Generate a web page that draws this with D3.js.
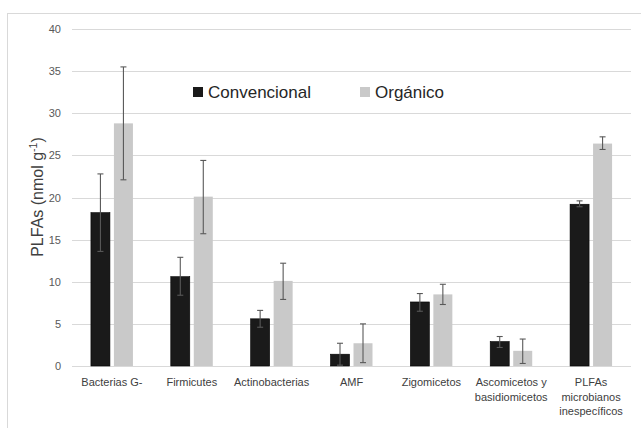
<!DOCTYPE html>
<html>
<head>
<meta charset="utf-8">
<style>
  body { margin: 0; background: #fff; }
  svg { font-family: "Liberation Sans", Arial, sans-serif; }
</style>
</head>
<body>
<div id="chart"></div>
<script src="https://d3js.org/d3.v7.min.js"></script>
<script>
// categories (line-broken labels)
var categories = ["Bacterias G-", "Firmicutes", "Actinobacterias", "AMF", "Zigomicetos",
                  "Ascomicetos y|basidiomicetos", "PLFAs|microbianos|inespecíficos"];
var series = ["Convencional", "Orgánico"];
var convencional = [18.2, 10.6, 5.6, 1.4, 7.6, 2.9, 19.2];
var convLow      = [13.6, 8.4, 4.6, 0.1, 6.5, 2.2, 18.9];
var convHigh     = [22.8, 12.9, 6.6, 2.7, 8.6, 3.5, 19.6];
var organico     = [28.8, 20.1, 10.1, 2.7, 8.5, 1.8, 26.4];
var orgLow       = [22.1, 15.7, 7.9, 0.4, 7.3, 0.3, 25.7];
var orgHigh      = [35.5, 24.4, 12.2, 5.0, 9.7, 3.2, 27.2];
var yTicks = [0, 5, 10, 15, 20, 25, 30, 35, 40];

var W = 641, H = 428;
var colors = ["#1a1a1a", "#c9c9c9"];

var svg = d3.select("#chart").append("svg")
    .attr("width", W).attr("height", H);

// outer chart border
svg.append("rect")
    .attr("x", 7.5).attr("y", 13.5)
    .attr("width", W + 10).attr("height", H + 10)
    .attr("fill", "none").attr("stroke", "#d9d9d9");

var x = d3.scaleBand().domain(categories).range([72, 631]);
var y = d3.scaleLinear().domain([0, 40]).range([366, 29]);

// gridlines
svg.append("g").selectAll("line").data(yTicks).enter().append("line")
    .attr("x1", 72).attr("x2", 631)
    .attr("y1", d => Math.round(y(d)) + 0.5).attr("y2", d => Math.round(y(d)) + 0.5)
    .attr("stroke", "#d9d9d9").attr("stroke-width", 1);

// y axis labels
var yAxis = svg.append("g")
    .attr("transform", "translate(72,0)")
    .call(d3.axisLeft(y).tickValues(yTicks).tickSize(0).tickPadding(11));
yAxis.select(".domain").remove();
yAxis.selectAll("text").attr("font-size", 11).attr("fill", "#595959")
    .attr("font-family", "Liberation Sans, Arial, sans-serif");

var barW = 19, gap = 4;
var rows = categories.map((c, i) => ({
  cat: c,
  vals: [
    {s: 0, v: convencional[i], lo: convLow[i], hi: convHigh[i]},
    {s: 1, v: organico[i], lo: orgLow[i], hi: orgHigh[i]}
  ]
}));

var groups = svg.append("g").selectAll("g").data(rows).enter().append("g")
    .attr("transform", d => "translate(" + (x(d.cat) + x.bandwidth() / 2) + ",0)");

function bx(d) { return d.s === 0 ? -gap / 2 - barW : gap / 2; }

groups.selectAll("rect").data(d => d.vals).enter().append("rect")
    .attr("x", bx)
    .attr("y", d => y(d.v))
    .attr("width", barW)
    .attr("height", d => y(0) - y(d.v))
    .attr("fill", d => colors[d.s])
    .attr("stroke", d => d.s === 0 ? "#000" : "none")
    .attr("stroke-width", 0.6);

// error bars
var err = groups.selectAll("g.err").data(d => d.vals).enter().append("g").attr("class", "err");
err.append("line")
    .attr("x1", d => bx(d) + barW / 2).attr("x2", d => bx(d) + barW / 2)
    .attr("y1", d => y(d.lo)).attr("y2", d => y(d.hi));
[ "lo", "hi" ].forEach(function (k) {
  err.append("line")
    .attr("x1", d => bx(d) + barW / 2 - 3).attr("x2", d => bx(d) + barW / 2 + 3)
    .attr("y1", d => y(d[k])).attr("y2", d => y(d[k]));
});
err.selectAll("line").attr("stroke", "#595959").attr("stroke-width", 1.1);

// x labels
var xl = svg.append("g").selectAll("text").data(categories).enter().append("text")
    .attr("text-anchor", "middle")
    .attr("font-size", 11).attr("fill", "#404040")
    .attr("x", d => x(d) + x.bandwidth() / 2)
    .attr("y", 386);
xl.selectAll("tspan").data(d => d.split("|")).enter().append("tspan")
    .attr("x", function () { return d3.select(this.parentNode).attr("x"); })
    .attr("dy", (d, i) => i === 0 ? 0 : 14.5)
    .text(d => d);

// y title
var yt = svg.append("text")
    .attr("transform", "translate(43,197) rotate(-90)")
    .attr("text-anchor", "middle")
    .attr("font-size", 16).attr("fill", "#404040");
yt.append("tspan").text("PLFAs (nmol g");
yt.append("tspan").attr("dy", -6).attr("font-size", 10.5).text("-1");
yt.append("tspan").attr("dy", 6).text(")");

// legend
var legX = [193, 360];
var leg = svg.append("g").selectAll("g").data(series).enter().append("g")
    .attr("transform", (d, i) => "translate(" + legX[i] + ",87)");
leg.append("rect").attr("width", 10).attr("height", 10)
    .attr("fill", (d, i) => colors[i]);
leg.append("text").attr("x", 15).attr("y", 11)
    .attr("font-size", 17).attr("fill", "#262626")
    .text(d => d);
</script>
</body>
</html>
